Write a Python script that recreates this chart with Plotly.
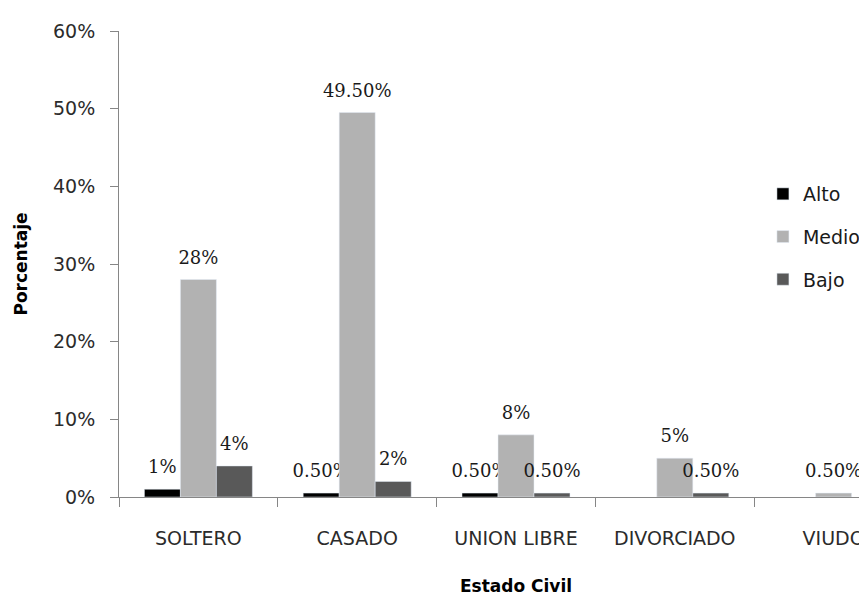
import plotly.graph_objects as go

categorias = ["SOLTERO", "CASADO", "UNION LIBRE", "DIVORCIADO", "VIUDO"]

alto = [0.01, 0.005, 0.005, None, None]
medio = [0.28, 0.495, 0.08, 0.05, 0.005]
bajo = [0.04, 0.02, 0.005, 0.005, None]

alto_labels = ["1%", "0.50%", "0.50%", "", ""]
medio_labels = ["28%", "49.50%", "8%", "5%", "0.50%"]
bajo_labels = ["4%", "2%", "0.50%", "0.50%", ""]

series = [
    ("Alto", alto, alto_labels, "#000000"),
    ("Medio", medio, medio_labels, "#b2b2b2"),
    ("Bajo", bajo, bajo_labels, "#595959"),
]

label_font = dict(family="DejaVu Serif", size=18, color="#1a1a1a")
sans = "DejaVu Sans"
# transparent hair spaces in a big font: they push the outside labels higher above the bars
pad = "<span style='font-size:56px;color:rgba(255,255,255,0)'>\u200a</span>"

fig = go.Figure()
for name, values, labels, color in series:
    fig.add_trace(
        go.Bar(
            x=categorias,
            y=values,
            name=name,
            legendgroup=name,
            marker_color=color,
            text=[pad + t + pad if t else "" for t in labels],
            textposition="outside",
            textfont=label_font,
            constraintext="none",
            cliponaxis=False,
        )
    )

fig.update_layout(
    width=917,
    height=597,
    margin=dict(l=110, r=12, t=17, b=103),
    plot_bgcolor="white",
    paper_bgcolor="white",
    barmode="group",
    bargap=0.32,
    bargroupgap=0,
    showlegend=True,
    legend=dict(
        x=0.811,
        y=0.691,
        xanchor="left",
        yanchor="top",
        traceorder="grouped",
        tracegroupgap=15,
        font=dict(family=sans, size=19, color="#1a1a1a"),
        bgcolor="rgba(0,0,0,0)",
    ),
    font=dict(family=sans),
)

fig.update_xaxes(
    showline=True,
    linecolor="#868686",
    linewidth=1,
    ticks="outside",
    tickson="boundaries",
    ticklen=9,
    tickcolor="#868686",
    ticklabelstandoff=24,
    tickfont=dict(family=sans, size=19, color="#2b2b2b"),
    title_text="<b>Estado Civil</b>",
    title_font=dict(family=sans, size=17, color="#000000"),
    title_standoff=32,
    showgrid=False,
)
fig.update_yaxes(
    range=[0, 0.6],
    dtick=0.1,
    tickformat=".0%",
    showline=True,
    linecolor="#868686",
    linewidth=1,
    ticks="outside",
    ticklen=8,
    tickcolor="#868686",
    ticklabelstandoff=11,
    tickfont=dict(family=sans, size=19, color="#2b2b2b"),
    title_text="<b>Porcentaje</b>",
    title_font=dict(family=sans, size=17, color="#000000"),
    title_standoff=21,
    showgrid=False,
    zeroline=False,
)

fig.write_html("out.html")
